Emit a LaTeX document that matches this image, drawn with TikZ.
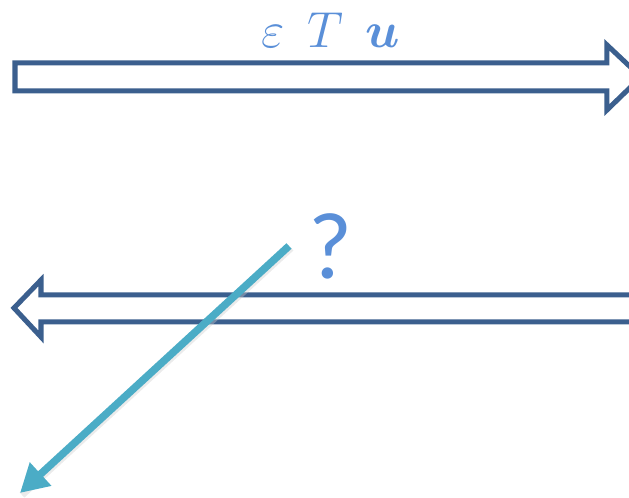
\documentclass[tikz,border=0pt]{standalone}
\usepackage{amsmath,bm}
\usepackage{fontspec}
\newfontfamily\qfont{Carlito}
\usetikzlibrary{arrows.meta}
\definecolor{frame}{HTML}{3B5F8E}
\definecolor{txt}{HTML}{5A8FD8}
\definecolor{aqua}{HTML}{4BACC6}
\begin{document}
\begin{tikzpicture}[x=0.01cm,y=-0.01cm,
 hollow/.style={draw=frame,line width=0.05cm,line join=miter,fill=white},
 lbl/.style={text=txt,inner sep=0pt},
 ray/.style={aqua,line width=0.075cm,-{Triangle[length=0.28cm,width=0.3cm]}},
 shade/.style={black!20,opacity=0.4,line width=0.07cm}]
\useasboundingbox (0,0) rectangle (629,498);
\clip (0,0) rectangle (629,498);
% upper arrow, pointing right
\draw[hollow] (15,63) -- (607,63) -- (607,45) -- (641,77) -- (607,110) -- (607,91) -- (15,91) -- cycle;
\node[lbl,font=\Large] (etu) at (331,30) {$\varepsilon\;\,T\;\,\boldsymbol{u}$};
% lower arrow, pointing left
\draw[hollow] (660,295) -- (41,295) -- (41,280) -- (14,308) -- (41,337) -- (41,322) -- (660,322) -- cycle;
\node[lbl,font=\qfont\fontsize{27}{30}\selectfont] (q) at (331,246) {?};
% the ray
\coordinate (from) at (289,246);
\coordinate (to) at (20,493);
\draw[shade] ([shift={(2,2)}]from) -- ([shift={(2,2)}]to);
\draw[ray] (from) -- (to);
\end{tikzpicture}
\end{document}
